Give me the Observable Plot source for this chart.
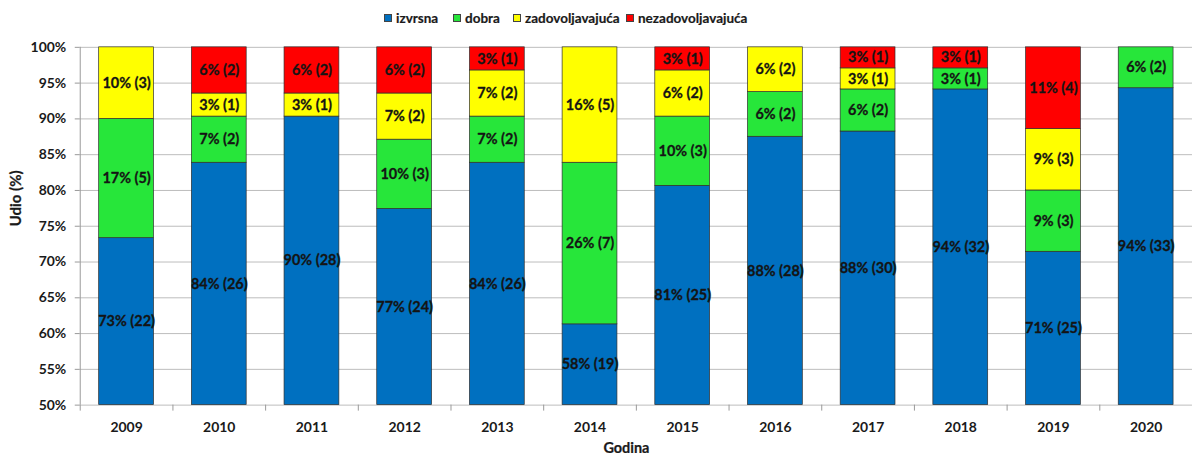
<!DOCTYPE html>
<html><head><meta charset="utf-8">
<script src="https://cdn.jsdelivr.net/npm/d3@7"></script>
<script src="https://cdn.jsdelivr.net/npm/@observablehq/plot@0.6"></script>
<style>
html,body{margin:0;padding:0;background:#fff;overflow:hidden;}
#wrap{position:relative;width:1192px;height:457px;overflow:hidden;font-family:Lato,"Open Sans",sans-serif;}
#legend{position:absolute;top:0;left:0;width:1192px;height:36px;font-weight:bold;font-size:13.5px;color:#1a1a1a;z-index:2;-webkit-text-stroke:0.2px #1a1a1a;}
#legend .item{position:absolute;top:10px;display:flex;align-items:center;white-space:nowrap;}
#legend .sw{width:8px;height:8px;border:1px solid #444;margin-right:4px;box-sizing:border-box;}
#chart{position:absolute;top:0;left:0;}
</style></head><body>
<div id="wrap"><div id="legend"></div><div id="chart"></div></div>
<script>
const years = ["2009","2010","2011","2012","2013","2014","2015","2016","2017","2018","2019","2020"];
const categories = ["izvrsna","dobra","zadovoljavajuća","nezadovoljavajuća"];
const colors = ["#0070C0","#27E63A","#FFFF00","#FF0000"];

// counts per year
const izvrsna = [22,26,28,24,26,19,25,28,30,32,25,33];
const dobra = [5,2,0,3,2,7,3,2,2,1,3,2];
const zadovoljavajuca = [3,1,1,2,2,5,2,2,1,0,3,0];
const nezadovoljavajuca = [0,2,2,2,1,0,1,0,1,1,4,0];

// percentages as printed in the labels
const izvrsnaPct = [73,84,90,77,84,58,81,88,88,94,71,94];
const dobraPct = [17,7,null,10,7,26,10,6,6,3,9,6];
const zadovoljavajucaPct = [10,3,3,7,7,16,6,6,3,null,9,null];
const nezadovoljavajucaPct = [null,6,6,6,3,null,3,null,3,3,11,null];

const yTicks = [0.5,0.55,0.6,0.65,0.7,0.75,0.8,0.85,0.9,0.95,1];

const counts = [izvrsna, dobra, zadovoljavajuca, nezadovoljavajuca];
const pcts = [izvrsnaPct, dobraPct, zadovoljavajucaPct, nezadovoljavajucaPct];
const yMin = 0.5;

const rows = [];
years.forEach((yr, i) => {
  const total = counts.reduce((s, arr) => s + arr[i], 0);
  let cum = 0;
  categories.forEach((cat, k) => {
    const c = counts[k][i];
    const y0 = cum / total;
    cum += c;
    const y1 = cum / total;
    if (c > 0) {
      const lo = Math.max(y0, yMin);
      rows.push({year: yr, cat, count: c, y0: lo, y1, mid: (lo + y1) / 2,
        label: pcts[k][i] != null ? `${pcts[k][i]}% (${c})` : null});
    }
  });
});

// legend
const legendLeft = [384, 453, 513, 626];
const lg = document.getElementById("legend");
categories.forEach((c, k) => {
  const it = document.createElement("div"); it.className = "item"; it.style.left = legendLeft[k] + "px";
  const sw = document.createElement("div"); sw.className = "sw"; sw.style.background = colors[k];
  const tx = document.createElement("span"); tx.textContent = c;
  it.appendChild(sw); it.appendChild(tx); lg.appendChild(it);
});

const W = 1196, ML = 80, MR = 0;
const step = (W - ML - MR) / years.length;
const bold = {fontWeight: "bold", fill: "#1a1a1a", stroke: "#1a1a1a", strokeWidth: 0.25};

const chart = Plot.plot({
  width: W, height: 457,
  marginLeft: ML, marginRight: MR, marginTop: 47, marginBottom: 51,
  style: {fontFamily: "Lato, 'Open Sans', sans-serif", background: "transparent", overflow: "visible"},
  x: {domain: years, paddingInner: 0.41, paddingOuter: 0.205},
  y: {domain: [0.5, 1]},
  color: {domain: categories, range: colors},
  marks: [
    Plot.gridY(yTicks, {stroke: "#bdbdbd", strokeOpacity: 1, strokeWidth: 1}),
    Plot.barY(rows, {x: "year", y1: "y0", y2: "y1", fill: "cat", stroke: "#2f2f2f", strokeWidth: 0.7}),
    Plot.text(rows.filter(d => d.label), {x: "year", y: "mid", text: "label", fontSize: 14.5, ...bold, fill: "#141414", stroke: "#141414", strokeWidth: 0.3}),
    Plot.ruleX([years[0]], {x: d => d, y1: 0.5, y2: 1, dx: -step / 2, stroke: "#9a9a9a"}),
    Plot.ruleX(years, {x: d => d, y1: 0.5, y2: 0.5, insetBottom: -6, dx: -step / 2, stroke: "#9a9a9a"}),
    Plot.axisY(yTicks, {tickFormat: d => Math.round(d * 100) + "%", tickSize: 5, tickPadding: 9, fontSize: 14, fontWeight: "bold", stroke: "#9a9a9a", fill: "#1a1a1a", label: null}),
    Plot.axisX({tickSize: 0, tickPadding: 17, fontSize: 14, fontWeight: "bold", fill: "#1a1a1a", label: null}),
    Plot.text(["Godina"], {frameAnchor: "bottom", dy: 48, dx: -10, fontSize: 14.5, ...bold}),
    Plot.text(["Udio (%)"], {frameAnchor: "left", rotate: -90, dx: -64, fontSize: 15, ...bold})
  ]
});
document.getElementById("chart").appendChild(chart);
</script>
</body></html>
